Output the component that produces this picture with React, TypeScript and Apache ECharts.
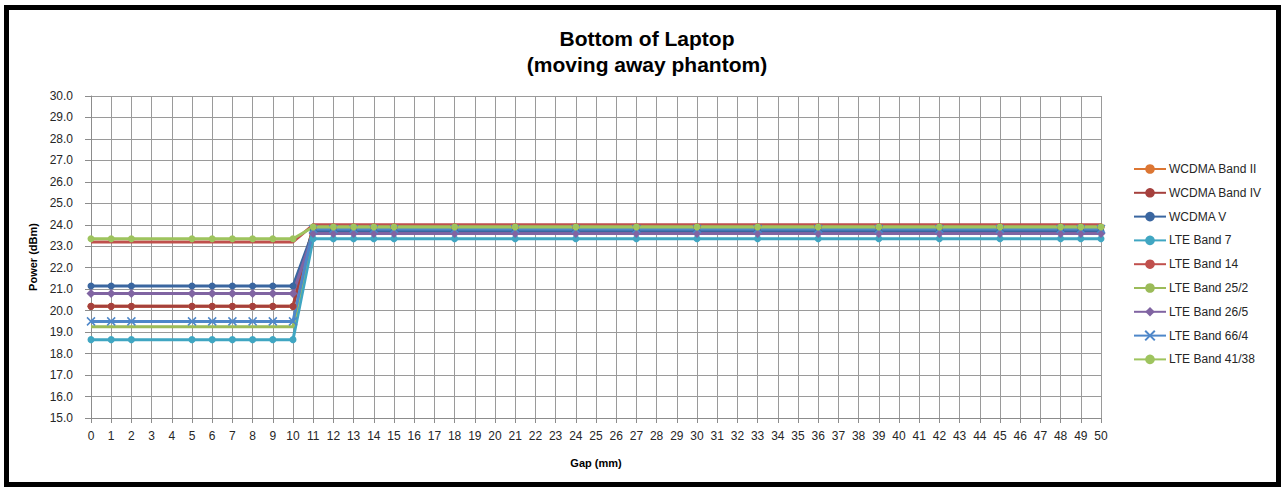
import React, { useEffect, useRef } from "react";
import * as echarts from "echarts";

const gaps = [0, 1, 2, 5, 6, 7, 8, 9, 10, 11, 12, 13, 14, 15, 18, 21, 24, 27, 30, 33, 36, 39, 42, 45, 48, 49, 50];

const wcdmaBandII = [20.2, 20.2, 20.2, 20.2, 20.2, 20.2, 20.2, 20.2, 20.2, 23.9, 23.9, 23.9, 23.9, 23.9, 23.9, 23.9, 23.9, 23.9, 23.9, 23.9, 23.9, 23.9, 23.9, 23.9, 23.9, 23.9, 23.9];
const wcdmaBandIV = [20.2, 20.2, 20.2, 20.2, 20.2, 20.2, 20.2, 20.2, 20.2, 23.9, 23.9, 23.9, 23.9, 23.9, 23.9, 23.9, 23.9, 23.9, 23.9, 23.9, 23.9, 23.9, 23.9, 23.9, 23.9, 23.9, 23.9];
const wcdmaV = [21.15, 21.15, 21.15, 21.15, 21.15, 21.15, 21.15, 21.15, 21.15, 23.7, 23.7, 23.7, 23.7, 23.7, 23.7, 23.7, 23.7, 23.7, 23.7, 23.7, 23.7, 23.7, 23.7, 23.7, 23.7, 23.7, 23.7];
const lteBand7 = [18.65, 18.65, 18.65, 18.65, 18.65, 18.65, 18.65, 18.65, 18.65, 23.35, 23.35, 23.35, 23.35, 23.35, 23.35, 23.35, 23.35, 23.35, 23.35, 23.35, 23.35, 23.35, 23.35, 23.35, 23.35, 23.35, 23.35];
const lteBand14 = [23.2, 23.2, 23.2, 23.2, 23.2, 23.2, 23.2, 23.2, 23.2, 24.0, 24.0, 24.0, 24.0, 24.0, 24.0, 24.0, 24.0, 24.0, 24.0, 24.0, 24.0, 24.0, 24.0, 24.0, 24.0, 24.0, 24.0];
const lteBand25 = [19.25, 19.25, 19.25, 19.25, 19.25, 19.25, 19.25, 19.25, 19.25, 23.9, 23.9, 23.9, 23.9, 23.9, 23.9, 23.9, 23.9, 23.9, 23.9, 23.9, 23.9, 23.9, 23.9, 23.9, 23.9, 23.9, 23.9];
const lteBand26 = [20.8, 20.8, 20.8, 20.8, 20.8, 20.8, 20.8, 20.8, 20.8, 23.6, 23.6, 23.6, 23.6, 23.6, 23.6, 23.6, 23.6, 23.6, 23.6, 23.6, 23.6, 23.6, 23.6, 23.6, 23.6, 23.6, 23.6];
const lteBand66 = [19.5, 19.5, 19.5, 19.5, 19.5, 19.5, 19.5, 19.5, 19.5, 23.8, 23.8, 23.8, 23.8, 23.8, 23.8, 23.8, 23.8, 23.8, 23.8, 23.8, 23.8, 23.8, 23.8, 23.8, 23.8, 23.8, 23.8];
const lteBand41 = [23.35, 23.35, 23.35, 23.35, 23.35, 23.35, 23.35, 23.35, 23.35, 23.9, 23.9, 23.9, 23.9, 23.9, 23.9, 23.9, 23.9, 23.9, 23.9, 23.9, 23.9, 23.9, 23.9, 23.9, 23.9, 23.9, 23.9];

const seriesNames = [
  "WCDMA Band II",
  "WCDMA Band IV",
  "WCDMA V",
  "LTE Band 7",
  "LTE Band 14",
  "LTE Band 25/2",
  "LTE Band 26/5",
  "LTE Band 66/4",
  "LTE Band 41/38",
];
const seriesValues = [wcdmaBandII, wcdmaBandIV, wcdmaV, lteBand7, lteBand14, lteBand25, lteBand26, lteBand66, lteBand41];
const seriesColors = ["#DC7633", "#A5403D", "#3A66A0", "#40A6C2", "#C0504D", "#9BBB59", "#8064A2", "#4E87C9", "#9EC45E"];
const seriesSymbols = ["circle", "circle", "circle", "circle", "none", "none", "diamond", "path://M0,0L10,10M10,0L0,10", "circle"];

const FONT = "'Liberation Sans', Arial, sans-serif";

export default function App() {
  const ref = useRef<HTMLDivElement>(null);
  useEffect(() => {
    if (!ref.current) return;
    const chart = echarts.init(ref.current, undefined, { renderer: "svg" });
    const series = seriesNames.map((name, i) => {
      const isCross = seriesSymbols[i].startsWith("path://");
      return {
        name,
        type: "line",
        data: gaps.map((g, j) => [g, seriesValues[i][j]]),
        symbol: seriesSymbols[i],
        showSymbol: seriesSymbols[i] !== "none",
        symbolSize: isCross ? 8 : seriesSymbols[i] === "diamond" ? 9 : 7,
        lineStyle: { color: seriesColors[i], width: 3 },
        itemStyle: isCross
          ? { color: seriesColors[i], borderColor: seriesColors[i], borderWidth: 1.5 }
          : { color: seriesColors[i], borderColor: seriesColors[i], borderWidth: 0 },
        emphasis: { disabled: true },
      };
    });
    chart.setOption({
      animation: false,
      backgroundColor: "#ffffff",
      textStyle: { fontFamily: FONT },
      graphic: [
        {
          type: "rect",
          shape: { x: 6.5, y: 7.5, width: 1272, height: 477 },
          style: { fill: "none", stroke: "#000000", lineWidth: 5 },
          silent: true,
        },
        {
          type: "text",
          x: 647,
          y: 38,
          style: {
            text: "Bottom of Laptop",
            font: `bold 21px ${FONT}`,
            fill: "#000000",
            textAlign: "center",
            textVerticalAlign: "middle",
          },
        },
        {
          type: "text",
          x: 647,
          y: 64,
          style: {
            text: "(moving away phantom)",
            font: `bold 21px ${FONT}`,
            fill: "#000000",
            textAlign: "center",
            textVerticalAlign: "middle",
          },
        },
      ],
      legend: {
        orient: "vertical",
        left: 1133,
        top: 163,
        padding: 0,
        itemWidth: 32,
        itemHeight: 12,
        itemGap: 11.8,
        textStyle: { fontSize: 12, color: "#262626", fontFamily: FONT, padding: [0, 0, 0, -2] },
        data: seriesNames,
      },
      grid: { left: 91, right: 182, top: 96, bottom: 70 },
      xAxis: {
        type: "value",
        min: 0,
        max: 50,
        interval: 1,
        name: "Gap (mm)",
        nameLocation: "middle",
        nameGap: 39,
        nameTextStyle: { fontWeight: "bold", fontSize: 11, color: "#000000" },
        axisLine: { show: true, lineStyle: { color: "#8c8c8c" } },
        axisTick: { show: true, length: 5, lineStyle: { color: "#8c8c8c" } },
        axisLabel: { fontSize: 12, color: "#262626", margin: 12 },
        splitLine: { show: true, lineStyle: { color: "#9a9a9a", width: 1 } },
      },
      yAxis: {
        type: "value",
        min: 15,
        max: 30,
        interval: 1,
        name: "Power (dBm)",
        nameLocation: "middle",
        nameGap: 48,
        nameTextStyle: { fontWeight: "bold", fontSize: 11, color: "#000000" },
        axisLine: { show: true, lineStyle: { color: "#8c8c8c" } },
        axisTick: { show: true, length: 6, lineStyle: { color: "#8c8c8c" } },
        axisLabel: { fontSize: 12, color: "#262626", margin: 18, formatter: (v: number) => v.toFixed(1) },
        splitLine: { show: true, lineStyle: { color: "#9a9a9a", width: 1 } },
      },
      series,
    });
    return () => chart.dispose();
  }, []);
  return (
    <div
      ref={ref}
      style={{ position: "absolute", left: 0, top: 0, width: 1283, height: 488, background: "#fff" }}
    />
  );
}
